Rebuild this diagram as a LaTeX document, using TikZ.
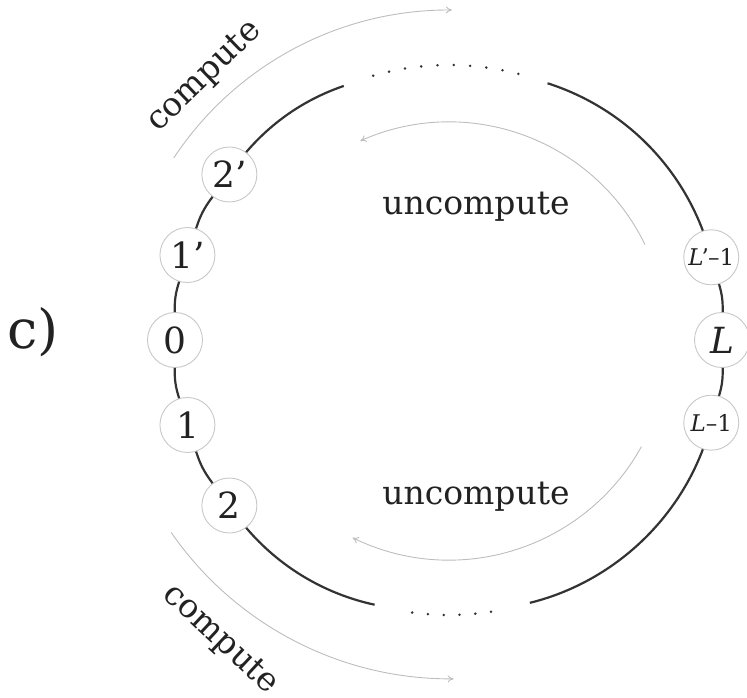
\documentclass[tikz,border=0pt]{standalone}
\usepackage{fontspec}
\setmainfont{DejaVu Serif}
\usetikzlibrary{arrows.meta}
\definecolor{ring}{HTML}{333333}
\definecolor{guide}{HTML}{BDBDBD}
\definecolor{ndline}{HTML}{C8C8C8}
\definecolor{ink}{HTML}{222222}
\tikzset{
  nd/.style={circle,draw=ndline,line width=0.9pt,fill=white,minimum size=55pt,inner sep=0pt,text=ink,font=\fontsize{36}{38}\selectfont},
  ndsmall/.style={nd,font=\fontsize{23}{25}\selectfont},
  ringline/.style={draw=ring,line width=2.2pt},
  guidearc/.style={draw=guide,line width=0.9pt,-{To[length=6pt,width=7pt]}},
  lbl/.style={text=ink,font=\fontsize{33}{35}\selectfont,inner sep=0pt},
  ringdot/.style={fill=ring,draw=none}
}
\begin{document}
\begin{tikzpicture}[x=1pt,y=1pt]
\useasboundingbox (-449,-357) rectangle (298,340);
% guide arcs
\draw[guidearc] (146.5:330pt) arc[start angle=146.5,end angle=89.5,radius=330pt];
\draw[guidearc] (214.7:338pt) arc[start angle=214.7,end angle=270.5,radius=340pt];
\draw[guidearc] (26:218pt) arc[start angle=26,end angle=114,radius=218pt];
\draw[guidearc] (-29:220pt) arc[start angle=-29,end angle=-116,radius=220pt];
% nodes
\node[nd] (n0) at (180:274pt) {0};
\node[nd] (n1p) at (162:275pt) {1’};
\node[nd] (n2p) at (143:275pt) {2’};
\node[nd] (n1) at (198:275pt) {1};
\node[nd] (n2) at (217:275pt) {2};
\node[nd] (nL) at (0:273pt) {\textit{L}};
\node[ndsmall] (nLp) at (17.5:275pt) {\textit{L}\kern-2pt’\kern-1pt–1};
\node[ndsmall] (nLm) at (-17.5:275pt) {\textit{L}–1};
% arc ends
\coordinate (tl) at (112.5:275pt);
\coordinate (tr) at (69:275pt);
\coordinate (bl) at (254.3:275pt);
\coordinate (br) at (-72.9:275pt);
% ring connectors
\draw[ringline] (n2) to[bend left=9.5] (n1);
\draw[ringline] (n1) to[bend left=9] (n0);
\draw[ringline] (n0) to[bend left=9] (n1p);
\draw[ringline] (n1p) to[bend left=9.5] (n2p);
\draw[ringline] (n2p) to[bend left=15.25,looseness=0.88] (tl);
\draw[ringline] (tr) to[bend left=25.75,looseness=0.9] (nLp);
\draw[ringline] (nLp) to[bend left=8.75] (nL);
\draw[ringline] (nL) to[bend left=8.75] (nLm);
\draw[ringline] (n2) to[bend right=18.65,looseness=0.88] (bl);
\draw[ringline] (br) to[bend right=27.7,looseness=0.9] (nLm);
% dots
\foreach \i in {0,...,9} { \fill[ringdot] ({106-3.4*\i}:275pt) circle[radius=1.4pt]; }
\foreach \i in {0,...,5} { \fill[ringdot] ({262.3+3.3*\i}:275pt) circle[radius=1.4pt]; }
% labels
\node[lbl] (cl) at (-416,8) {\fontsize{54}{56}\selectfont c)};
\node[lbl] (u1) at (27,133) {uncompute};
\node[lbl] (u2) at (27,-157) {uncompute};
\node[lbl,rotate=44] (c1) at (-244,263) {compute};
\node[lbl,rotate=-43] (c2) at (-229,-300) {compute};
\end{tikzpicture}
\end{document}
